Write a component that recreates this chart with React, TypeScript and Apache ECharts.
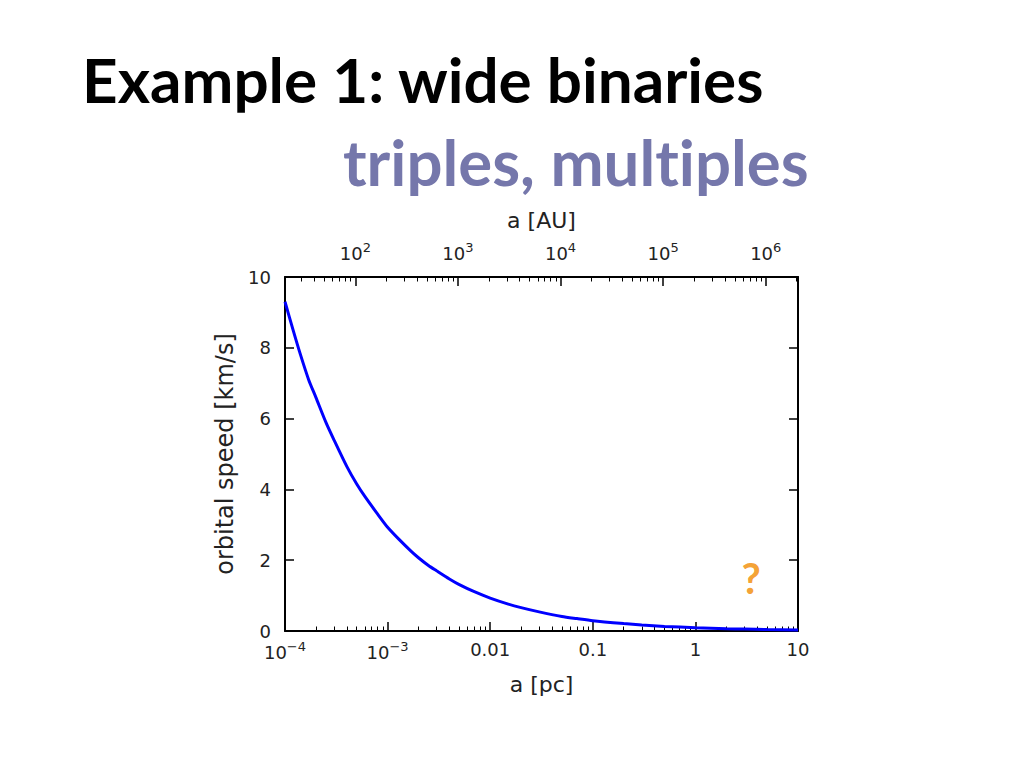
import React, { useEffect, useRef } from 'react';
import * as echarts from 'echarts';

// semi-major axis [pc] and orbital speed [km/s]
const aPc = [1e-4, 1.2e-4, 1.4e-4, 1.7e-4, 2e-4, 2.5e-4, 3e-4, 4e-4, 5e-4, 6e-4, 8e-4, 1e-3, 1.3e-3, 1.7e-3, 2e-3, 2.5e-3, 3e-3, 4e-3, 5e-3, 7e-3, 0.01, 0.015, 0.02, 0.03, 0.05, 0.07, 0.1, 0.2, 0.3, 0.5, 1, 2, 3, 5, 10];
const speed = [9.3, 8.5, 7.85, 7.1, 6.6, 5.9, 5.4, 4.65, 4.15, 3.8, 3.3, 2.93, 2.58, 2.25, 2.07, 1.85, 1.7, 1.47, 1.31, 1.11, 0.93, 0.76, 0.66, 0.54, 0.41, 0.35, 0.29, 0.21, 0.17, 0.13, 0.093, 0.066, 0.054, 0.041, 0.029];

// bottom axis (pc)
const pcMin = 1e-4;
const pcMax = 10;
const pcTicks = [1e-4, 1e-3, 0.01, 0.1, 1, 10];
const pcTickLabels = ['10^−4', '10^−3', '0.01', '0.1', '1', '10'];
const pcDecades = [1e-4, 1e-3, 1e-2, 1e-1, 1];

// top axis (AU)
const auMin = 20.6265;
const auMax = 2062650;
const auTicks = [1e2, 1e3, 1e4, 1e5, 1e6];
const auTickLabels = ['10^2', '10^3', '10^4', '10^5', '10^6'];
const auDecades = [10, 100, 1e3, 1e4, 1e5, 1e6];

const minorMultipliers = [2, 3, 4, 5, 6, 7, 8, 9];

// y axis
const yTicks = [0, 2, 4, 6, 8, 10];

// annotation
const questionMark = [3.5, 1.5];

const pcMinor: number[] = [];
pcDecades.forEach((d) => minorMultipliers.forEach((m) => pcMinor.push(d * m)));
const auMinor: number[] = [];
auDecades.forEach((d) => minorMultipliers.forEach((m) => {
  const v = d * m;
  if (v > auMin && v < auMax) auMinor.push(v);
}));

const FONT = 'DejaVu Sans';
const TXT = '#222';

function labelFor(values: number[], labels: string[]) {
  return (v: number) => {
    let idx = 0;
    let best = Infinity;
    values.forEach((t, i) => {
      const d = Math.abs(Math.log10(t) - Math.log10(v));
      if (d < best) { best = d; idx = i; }
    });
    const s = labels[idx];
    if (s.indexOf('^') >= 0) {
      const [b, e] = s.split('^');
      return `{b|${b}}{s|${e}}`;
    }
    return `{b|${s}}`;
  };
}

const rich = {
  b: { fontSize: 18, fontFamily: FONT, color: TXT },
  s: { fontSize: 13, fontFamily: FONT, color: TXT, padding: [0, 0, 11, 0] },
};

export default function App() {
  const ref = useRef<HTMLDivElement>(null);
  useEffect(() => {
    if (!ref.current) return;
    const chart = echarts.init(ref.current, undefined, { renderer: 'svg' });
    const axisLine = { show: true, lineStyle: { color: '#000', width: 2 } };
    chart.setOption({
      animation: false,
      backgroundColor: '#fff',
      graphic: [
        {
          type: 'text',
          left: 82,
          top: 48,
          style: { text: 'Example 1: wide binaries', font: 'bold 62px Lato', fill: '#000' },
        },
        {
          type: 'text',
          left: 343,
          top: 129,
          style: { text: 'triples, multiples', font: 'bold 63.5px Lato', fill: '#7577ab' },
        },
      ],
      grid: { left: 285, top: 277, width: 513, height: 354, containLabel: false },
      xAxis: [
        {
          type: 'log', logBase: 10, min: pcMin, max: pcMax, position: 'bottom',
          axisLine,
          axisTick: { show: true, inside: true, length: 9, customValues: pcTicks, lineStyle: { color: '#000', width: 1.5 } },
          axisLabel: { show: true, customValues: pcTicks, margin: 9, formatter: labelFor(pcTicks, pcTickLabels), rich },
          splitLine: { show: false },
          minorTick: { show: false },
          name: 'a [pc]', nameLocation: 'middle', nameGap: 42,
          nameTextStyle: { fontSize: 22, fontFamily: FONT, color: TXT },
        },
        {
          type: 'log', logBase: 10, min: pcMin, max: pcMax, position: 'bottom',
          axisLine: { show: false },
          axisTick: { show: true, inside: true, length: 4.5, customValues: pcMinor, lineStyle: { color: '#000', width: 1 } },
          axisLabel: { show: false },
          splitLine: { show: false },
        },
        {
          type: 'log', logBase: 10, min: auMin, max: auMax, position: 'top',
          axisLine,
          axisTick: { show: true, inside: true, length: 9, customValues: auTicks, lineStyle: { color: '#000', width: 1.5 } },
          axisLabel: { show: true, customValues: auTicks, margin: 12, formatter: labelFor(auTicks, auTickLabels), rich },
          splitLine: { show: false },
          name: 'a [AU]', nameLocation: 'middle', nameGap: 46,
          nameTextStyle: { fontSize: 22, fontFamily: FONT, color: TXT },
        },
        {
          type: 'log', logBase: 10, min: auMin, max: auMax, position: 'top',
          axisLine: { show: false },
          axisTick: { show: true, inside: true, length: 4.5, customValues: auMinor, lineStyle: { color: '#000', width: 1 } },
          axisLabel: { show: false },
          splitLine: { show: false },
        },
      ],
      yAxis: [
        {
          type: 'value', min: yTicks[0], max: yTicks[yTicks.length - 1], interval: 2, position: 'left',
          axisLine,
          axisTick: { show: true, inside: true, length: 9, lineStyle: { color: '#000', width: 1.5 } },
          axisLabel: { show: true, margin: 14, fontSize: 18, fontFamily: FONT, color: TXT },
          splitLine: { show: false },
          name: 'orbital speed [km/s]', nameLocation: 'middle', nameGap: 44, nameRotate: 90,
          nameTextStyle: { fontSize: 24, fontFamily: FONT, color: TXT },
        },
        {
          type: 'value', min: yTicks[0], max: yTicks[yTicks.length - 1], interval: 2, position: 'right',
          axisLine,
          axisTick: { show: true, inside: true, length: 9, lineStyle: { color: '#000', width: 1.5 } },
          axisLabel: { show: false },
          splitLine: { show: false },
        },
      ],
      series: [
        {
          type: 'line',
          xAxisIndex: 0,
          yAxisIndex: 0,
          data: aPc.map((a, i) => [a, speed[i]]),
          showSymbol: false,
          smooth: 0.25,
          lineStyle: { color: '#0000ff', width: 3 },
          clip: true,
          z: 3,
        },
        {
          type: 'scatter',
          xAxisIndex: 0,
          yAxisIndex: 0,
          data: [questionMark],
          symbolSize: 1,
          itemStyle: { color: 'rgba(0,0,0,0)' },
          label: {
            show: true, position: 'inside', formatter: '?',
            fontSize: 42, fontWeight: 'bold', fontFamily: 'Lato', color: '#f28a00',
          },
        },
      ],
    });
    return () => chart.dispose();
  }, []);
  return (
    <>
      <style>{'svg text { font-variant-ligatures: none !important; font-feature-settings: "liga" 0, "clig" 0 !important; }'}</style>
      <div ref={ref} style={{ position: 'fixed', left: 0, top: 0, width: 1024, height: 768 }} />
    </>
  );
}
